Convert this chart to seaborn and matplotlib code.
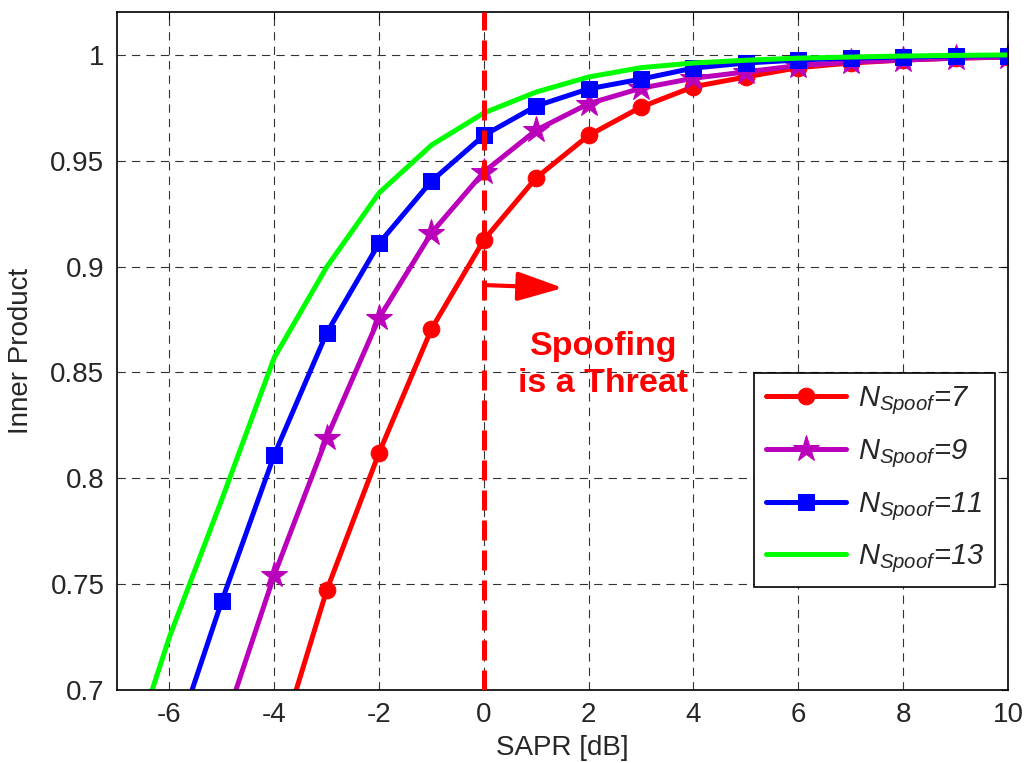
import numpy as np
import pandas as pd
import matplotlib
matplotlib.use('Agg')
import matplotlib.pyplot as plt
import seaborn as sns

# data
sapr = list(range(-7, 11))
n7 = [np.nan, np.nan, np.nan, 0.666, 0.747, 0.812, 0.8705, 0.9126, 0.942, 0.962,
      0.9754, 0.985, 0.9896, 0.994, 0.9962, 0.9976, 0.9985, 0.999]
n9 = [np.nan, np.nan, 0.680, 0.7543, 0.819, 0.8757, 0.9159, 0.9447, 0.9645, 0.977,
      0.9843, 0.989, 0.992, 0.995, 0.9966, 0.9976, 0.9985, 0.999]
n11 = [np.nan, 0.668, 0.742, 0.811, 0.8686, 0.911, 0.9404, 0.962, 0.9759, 0.984,
       0.9886, 0.9938, 0.9962, 0.9976, 0.9985, 0.999, 0.9995, 0.9997]
n13 = [0.649, 0.725, 0.790, 0.857, 0.8998, 0.9348, 0.9574, 0.9726, 0.9825, 0.9896,
       0.994, 0.9962, 0.9975, 0.9985, 0.999, 0.9995, 0.9998, 1.0]
labels = [r'$N_{Spoof}$=7', r'$N_{Spoof}$=9', r'$N_{Spoof}$=11', r'$N_{Spoof}$=13']
xticks = [-6, -4, -2, 0, 2, 4, 6, 8, 10]
yticks = [0.7, 0.75, 0.8, 0.85, 0.9, 0.95, 1.0]
ytick_labels = ['0.7', '0.75', '0.8', '0.85', '0.9', '0.95', '1']

sns.set_style('white')
plt.rcParams['font.family'] = ['Liberation Sans', 'DejaVu Sans']
plt.rcParams['mathtext.fontset'] = 'custom'
plt.rcParams['mathtext.it'] = 'Liberation Sans:italic'
plt.rcParams['mathtext.rm'] = 'Liberation Sans'

fig = plt.figure(figsize=(10.28, 7.63), dpi=100)
ax = fig.add_axes([0.1138, 0.0957, 0.8667, 0.8886])

df = pd.DataFrame({'sapr': sapr, 'n7': n7, 'n9': n9, 'n11': n11, 'n13': n13})
styles = [('n7', '#FF0000', 'o', 12), ('n9', '#BB00BB', '*', 20),
          ('n11', '#0000FF', 's', 11), ('n13', '#00FF00', None, 0)]
for (col, c, m, ms), lab in zip(styles, labels):
    d = df.dropna(subset=[col])
    sns.lineplot(data=d, x='sapr', y=col, ax=ax, color=c, marker=m, markersize=ms,
                 markeredgecolor=c, linewidth=3.6, label=lab)

# threshold line, arrow and note
ax.axvline(0, color='#FF0000', linewidth=3.6, linestyle=(0, (4, 2)), zorder=5)
ax.annotate('', xy=(1.51, 0.8899), xytext=(0, 0.8913),
            arrowprops=dict(arrowstyle='-|>,head_length=1.4,head_width=0.45',
                            color='#FF0000', lw=3, mutation_scale=20, shrinkA=0, shrinkB=0))
ax.text(2.28, 0.8535, 'Spoofing\nis a Threat', color='#FF0000', fontsize=24.5,
        fontweight='bold', ha='center', va='center', linespacing=1.25)

ax.set_xlim(-7, 10)
ax.set_ylim(0.7, 1.0203)
ax.set_xticks(xticks)
ax.set_xticklabels([str(t) for t in xticks])
ax.set_yticks(yticks)
ax.set_yticklabels(ytick_labels)
ax.tick_params(direction='in', top=True, right=True, labelsize=20, length=5, pad=9,
               color='k')
ax.grid(True, linestyle=(0, (7.5, 5.5)), color='#333333', linewidth=0.8)
for s in ax.spines.values():
    s.set_color('k')
    s.set_linewidth(1.2)
ax.set_xlabel('SAPR [dB]', fontsize=20, labelpad=5)
ax.set_ylabel('Inner Product', fontsize=20, labelpad=12)

leg = ax.legend(loc='upper left', bbox_to_anchor=(0.715, 0.4676), borderaxespad=0,
                fancybox=False, framealpha=1, edgecolor='k',
                prop={'family': 'Liberation Sans', 'style': 'italic', 'size': 21},
                handlelength=2.75, handletextpad=0.4, labelspacing=0.68,
                borderpad=0.4)
leg.get_frame().set_linewidth(1.2)

fig.savefig('out.png', dpi=100)
